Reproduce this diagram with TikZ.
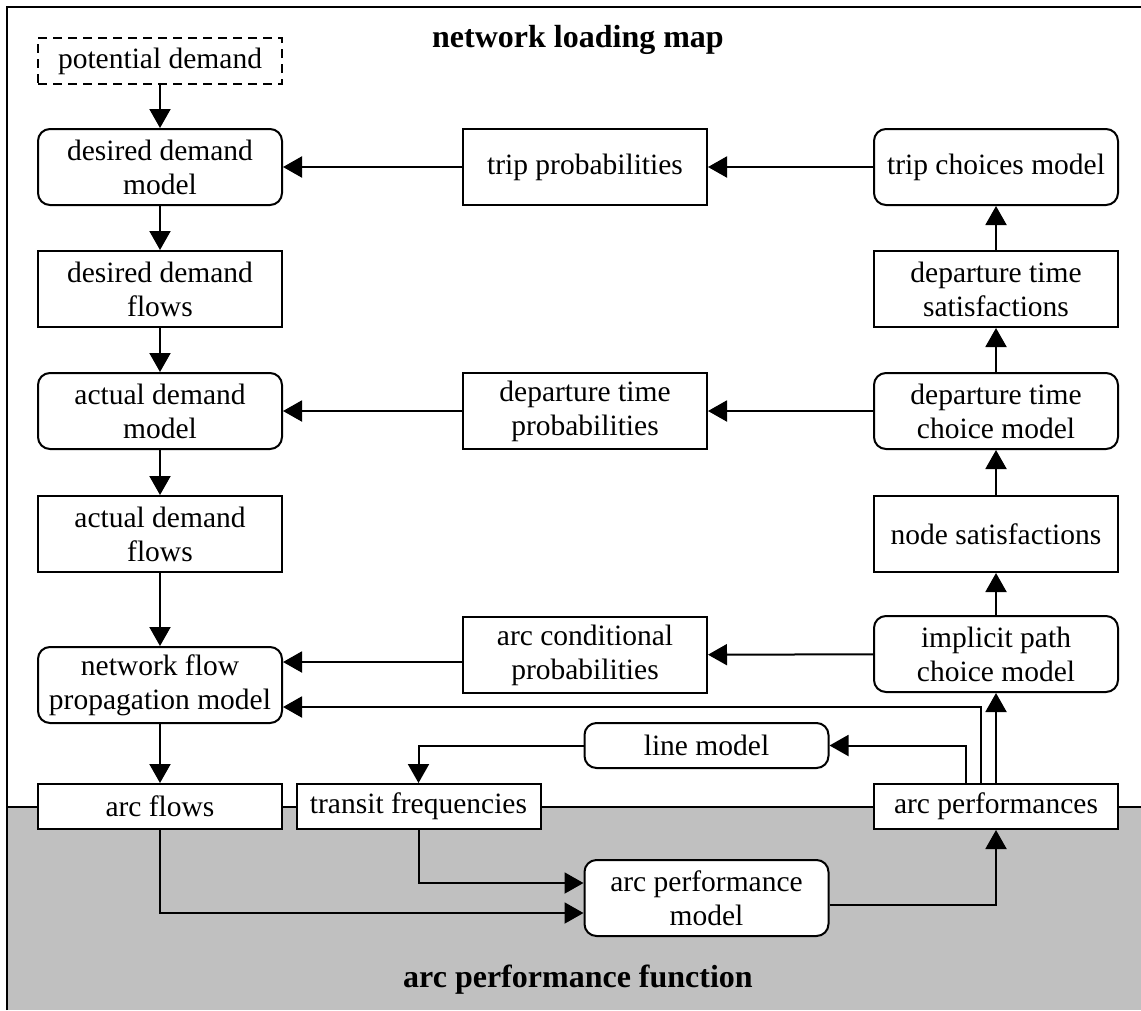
\documentclass[tikz,border=0pt]{standalone}
\usepackage{fontspec}
\setmainfont{Liberation Serif}
\usetikzlibrary{arrows.meta}
\definecolor{panelgray}{RGB}{192,192,192}

\begin{document}
\begin{tikzpicture}[x=1pt,y=-1pt,line width=2pt,
    font=\fontsize{29.5}{34}\selectfont,
    box/.style={draw,fill=white,align=center,inner sep=0pt,
      minimum width=244pt,minimum height=76pt},
    thinbox/.style={box,minimum height=45pt},
    potbox/.style={box,minimum height=46pt,dash pattern=on 9pt off 6pt},
    model/.style={box,rounded corners=12pt},
    arr/.style={-{Triangle[length=19pt,width=21pt]}},
    title/.style={font=\fontsize{32}{37}\selectfont\bfseries}]
    \useasboundingbox (0,0) rectangle (1141,1010);
    % arc performance function panel
    \fill[panelgray] (7,807) rectangle (1141,1010);
    \draw (7,807) -- (1141,807);
    \draw (7,1010) -- (7,7) -- (1141,7);
    \node[title] (nlm) at (578,40) {network loading map};
    \node[title] (apf) at (578,980) {arc performance function};
    % demand side
    \node[potbox] (pot) at (160,61) {potential demand};
    \node[model] (ddm) at (160,167) {desired demand\\model};
    \node[box] (ddf) at (160,289) {desired demand\\flows};
    \node[model] (adm) at (160,411) {actual demand\\model};
    \node[box] (adf) at (160,534) {actual demand\\flows};
    \node[model] (nfpm) at (160,685) {network flow\\propagation model};
    \node[thinbox] (af) at (160,806.5) {arc flows};
    % choice side
    \node[model] (tcm) at (996,167) {trip choices model};
    \node[box] (dts) at (996,289) {departure time\\satisfactions};
    \node[model] (dtcm) at (996,411) {departure time\\choice model};
    \node[box] (ns) at (996,534) {node satisfactions};
    \node[model] (ipcm) at (996,654) {implicit path\\choice model};
    \node[thinbox] (ap) at (996,806.5) {arc performances};
    % middle
    \node[box] (tp) at (585,167) {trip probabilities};
    \node[box] (dtp) at (585,411) {departure time\\probabilities};
    \node[box] (acp) at (585,655) {arc conditional\\probabilities};
    \node[model,minimum height=45pt] (lm) at (706.5,745.5) {line model};
    \node[thinbox] (tf) at (418.5,806.5) {transit frequencies};
    \node[model] (apm) at (706.5,898) {arc performance\\model};
    % down the left
    \draw[arr] (pot) -- (ddm);
    \draw[arr] (ddm) -- (ddf);
    \draw[arr] (ddf) -- (adm);
    \draw[arr] (adm) -- (adf);
    \draw[arr] (adf) -- (nfpm);
    \draw[arr] (nfpm) -- (af);
    % up the right
    \draw[arr] (ap) -- (ipcm);
    \draw[arr] (ipcm) -- (ns);
    \draw[arr] (ns) -- (dtcm);
    \draw[arr] (dtcm) -- (dts);
    \draw[arr] (dts) -- (tcm);
    % across
    \draw[arr] (tcm) -- (tp);
    \draw[arr] (tp) -- (ddm);
    \draw[arr] (dtcm) -- (dtp);
    \draw[arr] (dtp) -- (adm);
    \draw[arr] (ipcm) -- (acp);
    \draw[arr] ([yshift=-7pt]acp.west) -- ([yshift=-7pt]acp.west -| nfpm.east);
    \draw[arr] ([xshift=-15pt]ap.north) |- ([yshift=-22pt]nfpm.east);
    \draw[arr] ([xshift=-30pt]ap.north) |- (lm.east);
    \draw[arr] (lm.west) -| (tf.north);
    % arc performance function
    \draw[arr] (tf.south) |- ([yshift=15pt]apm.west);
    \draw[arr] (af.south) |- ([yshift=-15pt]apm.west);
    \draw[arr] ([yshift=-7pt]apm.east) -| (ap.south);
\end{tikzpicture}
\end{document}
